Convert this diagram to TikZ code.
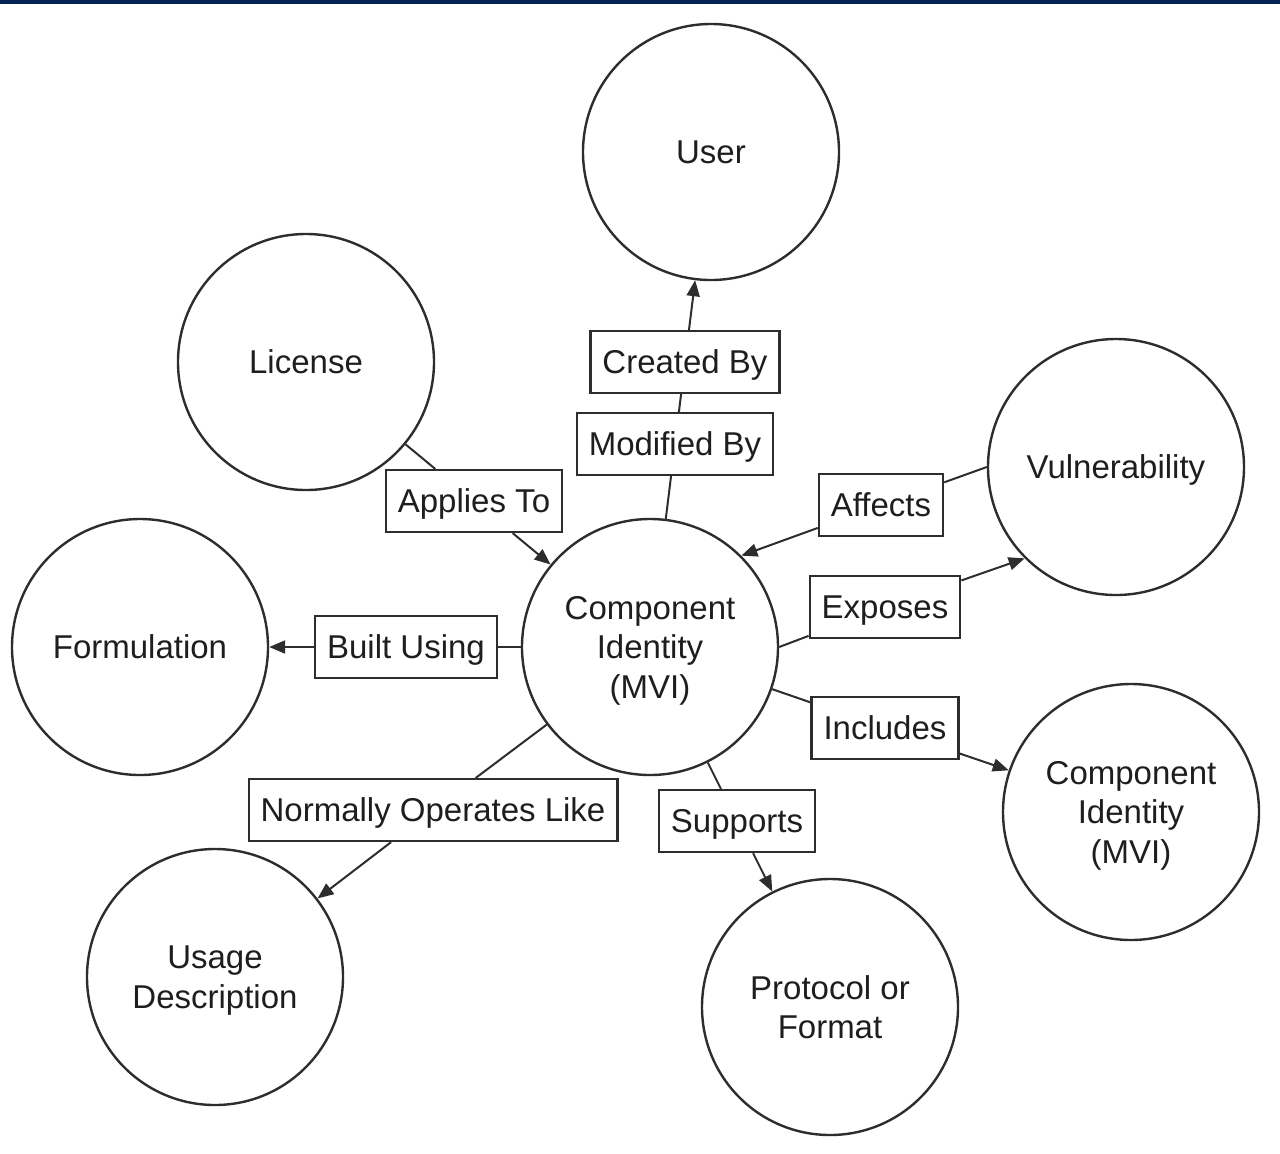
\documentclass[tikz,border=0pt]{standalone}
\usepackage{fontspec}
\setmainfont{Liberation Sans}
\usetikzlibrary{arrows.meta}
\definecolor{navy}{RGB}{5,36,84}
\definecolor{ink}{RGB}{45,45,45}
\definecolor{txt}{RGB}{30,30,30}
\begin{document}
\begin{tikzpicture}[x=0.5pt,y=-0.5pt,
  concept/.style={circle,draw=ink,line width=1.2pt,minimum size=128pt,inner sep=0pt,align=center,text=txt,text depth=0pt,font=\fontsize{16.5}{19.75}\selectfont},
  rel/.style={rectangle,draw=ink,line width=1.1pt,fill=white,minimum height=31pt,inner xsep=6pt,inner ysep=0pt,text=txt,text depth=0pt,font=\fontsize{16.5}{19.75}\selectfont},
  link/.style={draw=ink,line width=1pt},
  arr/.style={link,-{Triangle[length=8pt,width=6.5pt]}}]
\useasboundingbox (0,0) rectangle (1280,1153);
\fill[navy] (0,0) rectangle (1280,4);
% concepts
\node[concept] (user) at (711,152) {User};
\node[concept] (license) at (306,362) {License};
\node[concept] (form) at (140,647) {Formulation};
\node[concept] (mvi) at (650,647) {Component\\Identity\\(MVI)};
\node[concept] (vuln) at (1116,467) {Vulnerability};
\node[concept] (mvi2) at (1131,812) {Component\\Identity\\(MVI)};
\node[concept] (usage) at (215,977) {Usage\\Description};
\node[concept] (proto) at (830,1007) {Protocol or\\Format};
% relations
\node[rel] (created) at (685,362) {Created By};
\node[rel] (modified) at (675,444) {Modified By};
\node[rel] (applies) at (474,501) {Applies To};
\node[rel] (affects) at (881,505) {Affects};
\node[rel] (exposes) at (885,607) {Exposes};
\node[rel] (built) at (406,647) {Built Using};
\node[rel] (includes) at (885,728) {Includes};
\node[rel] (normally) at (433,810) {Normally Operates Like};
\node[rel] (supports) at (737,821) {Supports};
% connectors
\draw[link] (mvi) -- (modified);
\draw[link] (modified) -- (created);
\draw[arr] (created) -- (user);
\draw[link] (license) -- (applies);
\draw[arr] (applies) -- (mvi);
\draw[link] (vuln.west) -- (affects);
\draw[arr] (affects) -- (mvi.45);
\draw[link] (mvi.east) -- (exposes);
\draw[arr] (exposes) -- (vuln.225);
\draw[link] (mvi) -- (built);
\draw[arr] (built) -- (form);
\draw[link] (mvi) -- (includes);
\draw[arr] (includes) -- (mvi2);
\draw[link] (mvi) -- (normally);
\draw[arr] (normally) -- (usage);
\draw[link] (mvi) -- (supports);
\draw[arr] (supports) -- (proto);
\end{tikzpicture}
\end{document}
